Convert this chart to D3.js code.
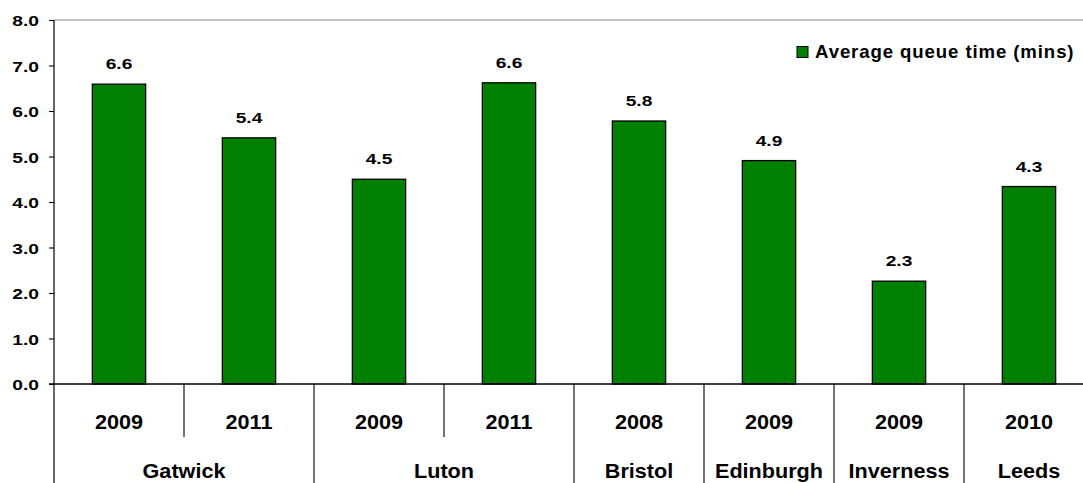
<!DOCTYPE html>
<html><head><meta charset="utf-8">
<script src="https://cdn.jsdelivr.net/npm/d3@7"></script>
<style>
body{margin:0;background:#fff}
svg{display:block}
text{font-family:"Liberation Sans",Arial,sans-serif;font-weight:bold;fill:#000}
</style></head>
<body><svg id="c" width="1083" height="483"></svg>
<script>
// ---- data ----
const airports   = ["Gatwick","Gatwick","Luton","Luton","Bristol","Edinburgh","Inverness","Leeds"];
const years      = ["2009","2011","2009","2011","2008","2009","2009","2010"];
const queueTimes = [6.59, 5.41, 4.5, 6.62, 5.78, 4.91, 2.26, 4.34];
const yTicks     = [0,1,2,3,4,5,6,7,8];
const seriesName = "Average queue time (mins)";

// ---- layout ----
const W = 1083, H = 483;
const leftX = 54, topY = 20, zeroY = 384, slot = 130;
const svg = d3.select("#c");
const idx = d3.range(queueTimes.length);
const x = d3.scaleBand().domain(idx).range([leftX, leftX + slot*idx.length]).padding(0);
const y = d3.scaleLinear().domain([0, 8]).range([zeroY, topY]);
const green = "#008000";
const numStretch = 1.24;

// top gray border
svg.append("line").attr("x1", leftX).attr("x2", W).attr("y1", y(8)).attr("y2", y(8))
  .attr("stroke", "#8c8c8c").attr("stroke-width", 1.2);

// bars
const bw = x.bandwidth()*0.41;
svg.append("g").selectAll("rect").data(idx).join("rect")
  .attr("x", i => x(i) + (x.bandwidth()-bw)/2)
  .attr("y", i => y(queueTimes[i]))
  .attr("width", bw)
  .attr("height", i => y(0) - y(queueTimes[i]))
  .attr("fill", green).attr("stroke", "#000").attr("stroke-width", 1.3);

// value labels
svg.append("g").selectAll("text").data(idx).join("text")
  .attr("transform", i => `translate(${x(i)+x.bandwidth()/2},${y(queueTimes[i]) - 15}) scale(${numStretch},1)`)
  .attr("text-anchor", "middle")
  .style("font-size", "15.5px")
  .text(i => queueTimes[i].toFixed(1));

// y axis
const ax = svg.append("g").attr("transform", `translate(${leftX},0)`)
  .call(d3.axisLeft(y).tickValues(yTicks).tickFormat(d3.format(".1f")).tickSize(5));
ax.select(".domain").remove();
ax.selectAll(".tick line").attr("stroke", "#000").attr("stroke-width", 1.1);
ax.selectAll(".tick text")
  .attr("x", -15/numStretch).attr("dy", "0.36em")
  .attr("transform", `scale(${numStretch},1)`)
  .style("font-size", "15.5px").style("font-family", "Liberation Sans, Arial, sans-serif")
  .style("font-weight", "bold").attr("fill", "#000");

// y axis line (continues down through category area)
svg.append("line").attr("x1", leftX).attr("x2", leftX).attr("y1", topY).attr("y2", H)
  .attr("stroke", "#000").attr("stroke-width", 1.2);

// zero line
svg.append("line").attr("x1", leftX-5).attr("x2", W).attr("y1", zeroY).attr("y2", zeroY)
  .attr("stroke", "#000").attr("stroke-width", 1.3);

// category separators
const seps = idx.slice(1);
svg.append("g").selectAll("line").data(seps).join("line")
  .attr("x1", i => x(i)).attr("x2", i => x(i))
  .attr("y1", zeroY)
  .attr("y2", i => airports[i] === airports[i-1] ? 437 : H)
  .attr("stroke", "#000").attr("stroke-width", 1.1);

// year labels
svg.append("g").selectAll("text").data(idx).join("text")
  .attr("transform", i => `translate(${x(i)+x.bandwidth()/2},429) scale(1.03,1)`)
  .attr("text-anchor", "middle").style("font-size", "21px")
  .text(i => years[i]);

// group labels
const groups = [];
idx.forEach(i => {
  const g = groups.find(g => g.name === airports[i]);
  if (g) g.end = i; else groups.push({name: airports[i], start: i, end: i});
});
svg.append("g").selectAll("text").data(groups).join("text")
  .attr("transform", g => `translate(${(x(g.start) + x(g.end) + x.bandwidth())/2},478) scale(1.03,1)`)
  .attr("text-anchor", "middle").style("font-size", "21px")
  .text(g => g.name);

// legend
const lg = svg.append("g");
lg.append("rect").attr("x", 797).attr("y", 46.5).attr("width", 11).attr("height", 11)
  .attr("fill", green).attr("stroke", "#000").attr("stroke-width", 1);
lg.append("text").attr("x", 815).attr("y", 57.5)
  .style("font-size", "18.6px").style("letter-spacing", "0.9px")
  .text(seriesName);
</script>
</body></html>
